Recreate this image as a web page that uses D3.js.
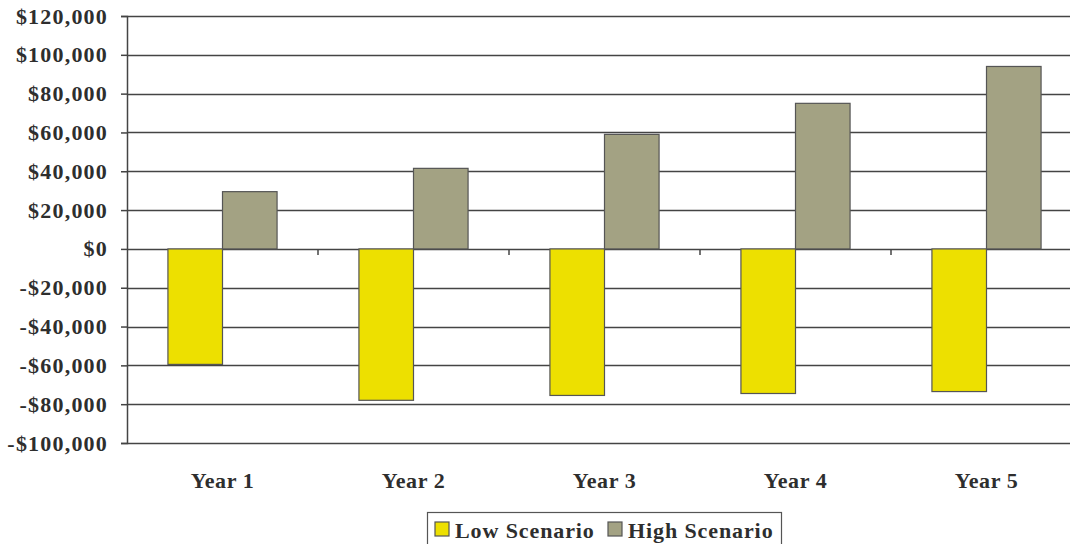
<!DOCTYPE html>
<html>
<head>
<meta charset="utf-8">
<script src="https://cdn.jsdelivr.net/npm/d3@7"></script>
<style>
  html, body { margin: 0; padding: 0; background: #fff; }
  svg { display: block; }
  text { font-family: "Liberation Serif", "Times New Roman", serif; font-weight: bold; fill: #2e2e2e; }
</style>
</head>
<body>
<svg id="chart" width="1070" height="544"></svg>
<script>
// Annual net result per scenario
const years = ["Year 1", "Year 2", "Year 3", "Year 4", "Year 5"];
const seriesNames = ["Low Scenario", "High Scenario"];
const lowScenario = [-59500, -78000, -75500, -74500, -73500];
const highScenario = [29500, 41500, 59000, 75000, 94000];
const yTicks = [120000, 100000, 80000, 60000, 40000, 20000, 0, -20000, -40000, -60000, -80000, -100000];

const colors = { "Low Scenario": "#ede000", "High Scenario": "#a3a283" };

const rows = years.map((y, i) => ({ year: y, "Low Scenario": lowScenario[i], "High Scenario": highScenario[i] }));

const svg = d3.select("#chart");
const plotLeft = 127, plotRight = 1082, plotTop = 16, plotBottom = 443;

const x0 = d3.scaleBand().domain(years).range([plotLeft, plotRight]).padding(0);
const x1 = d3.scaleBand().domain(seriesNames).range([0, x0.bandwidth()]).paddingInner(0).paddingOuter(0.75);
const y = d3.scaleLinear().domain([-100000, 120000]).range([plotBottom, plotTop]);

const fmt = v => (v < 0 ? "-$" : "$") + d3.format(",")(Math.abs(v));

// horizontal gridlines
svg.append("g")
  .selectAll("line")
  .data(yTicks)
  .join("line")
  .attr("x1", plotLeft).attr("x2", plotRight)
  .attr("y1", d => Math.round(y(d)) + 0.5).attr("y2", d => Math.round(y(d)) + 0.5)
  .attr("stroke", "#444").attr("stroke-width", 1.5);

// value axis
const yAxis = svg.append("g")
  .attr("transform", `translate(${plotLeft},0)`)
  .call(d3.axisLeft(y).tickValues(yTicks).tickFormat(fmt).tickSize(6).tickPadding(13));
yAxis.select(".domain").attr("stroke", "#444").attr("stroke-width", 1.5);
yAxis.selectAll(".tick line").attr("stroke", "#444").attr("stroke-width", 1.5);
yAxis.selectAll(".tick text")
  .attr("font-size", 22).attr("letter-spacing", "1.2px")
  .style("font-family", "'Liberation Serif', serif").style("font-weight", "bold");

// bars
svg.append("g")
  .selectAll("g")
  .data(rows)
  .join("g")
  .attr("transform", d => `translate(${x0(d.year)},0)`)
  .selectAll("rect")
  .data(d => seriesNames.map(s => ({ key: s, value: d[s] })))
  .join("rect")
  .attr("x", d => x1(d.key))
  .attr("width", x1.bandwidth())
  .attr("y", d => y(Math.max(0, d.value)))
  .attr("height", d => Math.abs(y(d.value) - y(0)))
  .attr("fill", d => colors[d.key])
  .attr("stroke", "#555").attr("stroke-width", 1.2);

// category axis along zero line: ticks between categories
const xAxis = svg.append("g")
  .attr("transform", `translate(0,${y(0)})`);
xAxis.selectAll("line")
  .data(years.slice(1))
  .join("line")
  .attr("x1", d => x0(d)).attr("x2", d => x0(d))
  .attr("y1", 0).attr("y2", 6)
  .attr("stroke", "#444").attr("stroke-width", 1.5);

// category labels below plot
svg.append("g")
  .selectAll("text")
  .data(years)
  .join("text")
  .attr("x", d => x0(d) + x0.bandwidth() / 2)
  .attr("y", 488)
  .attr("text-anchor", "middle")
  .attr("font-size", 22).attr("letter-spacing", "0.6px")
  .text(d => d);

// legend
const legend = svg.append("g");
legend.append("rect")
  .attr("x", 427.5).attr("y", 512.5).attr("width", 354).attr("height", 40)
  .attr("fill", "#fff").attr("stroke", "#555").attr("stroke-width", 1.2);
const legendX = [435, 608];
seriesNames.forEach((s, i) => {
  legend.append("rect")
    .attr("x", legendX[i]).attr("y", 522).attr("width", 14).attr("height", 14)
    .attr("fill", colors[s]).attr("stroke", "#555").attr("stroke-width", 1.2);
  legend.append("text")
    .attr("x", legendX[i] + 20).attr("y", 538)
    .attr("font-size", 22).attr("letter-spacing", "0.9px")
    .text(s);
});
</script>
</body>
</html>
